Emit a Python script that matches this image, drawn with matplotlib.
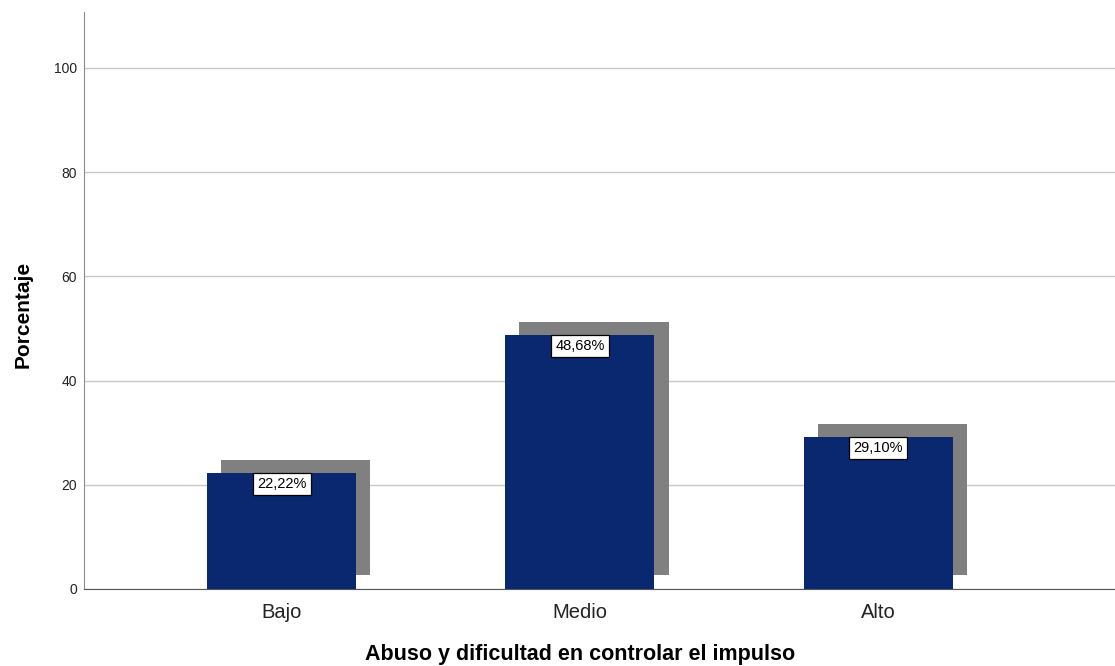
import matplotlib
matplotlib.use("Agg")
import matplotlib.pyplot as plt

plt.rcParams["font.family"] = ["Liberation Sans", "DejaVu Sans"]

categories = ["Bajo", "Medio", "Alto"]
values = [22.22, 48.68, 29.10]
labels = ["22,22%", "48,68%", "29,10%"]
yticks = [0, 20, 40, 60, 80, 100]

fig = plt.figure(figsize=(11.15, 6.66), dpi=100)
ax = fig.add_axes([84/1115, 1-589/666, 1-84/1115, (589-12)/666])

x = list(range(len(categories)))
w = 0.5
dx, dy = 0.047, 2.6
ax.bar([i + dx for i in x], values, width=w, bottom=dy, color="#808080", zorder=2)
ax.bar(x, values, width=w, color="#0A2870", zorder=3)
for i, v, l in zip(x, values, labels):
    ax.text(i, v - 0.75, l, ha="center", va="top", fontsize=10.5, zorder=5,
            bbox=dict(boxstyle="square,pad=0.27", fc="white", ec="black", lw=0.9))

ax.set_xlim(-0.664, 2.795)
ax.set_ylim(0, 110.7)
ax.set_yticks(yticks)
ax.tick_params(axis="y", labelsize=10, length=0, pad=5, labelcolor="#222222")
ax.tick_params(axis="x", labelsize=14.5, length=0, pad=10, labelcolor="#222222")
ax.set_xticks(x)
ax.set_xticklabels(categories)
ax.yaxis.grid(True, color="#c8c8c8", lw=1.0, zorder=0)
ax.set_axisbelow(True)
for s in ["top", "right"]:
    ax.spines[s].set_visible(False)
ax.spines["left"].set_color("#8c8c8c")
ax.spines["bottom"].set_color("#555555")
ax.set_ylabel("Porcentaje", fontsize=15, fontweight="bold")
ax.yaxis.set_label_coords(-0.0495, 0.475)
ax.set_xlabel("Abuso y dificultad en controlar el impulso", fontsize=15.5,
              fontweight="bold")
ax.xaxis.set_label_coords(0.481, -0.0953)

fig.savefig("out.png", dpi=100)
